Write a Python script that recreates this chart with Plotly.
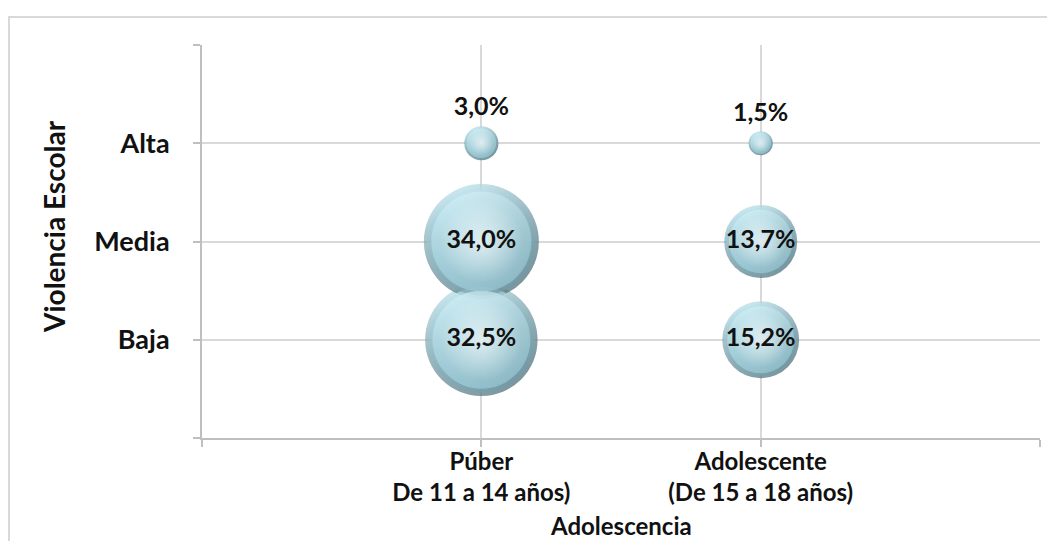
import plotly.graph_objects as go

# ---- data ----
groups = ["Púber<br>De 11 a 14 años)", "Adolescente<br>(De 15 a 18 años)"]
levels = ["Baja", "Media", "Alta"]
puber = [32.5, 34.0, 3.0]        # Baja, Media, Alta
adolescente = [15.2, 13.7, 1.5]  # Baja, Media, Alta
x_title = "Adolescencia"
y_title = "Violencia Escolar"

FONT = "Lato"
xs, ys, vals = [], [], []
for gi, series in enumerate([puber, adolescente]):
    for li, v in enumerate(series):
        xs.append(gi + 1)
        ys.append(li + 1)
        vals.append(v)

labels = [f"{v:.1f}".replace(".", ",") + "%" for v in vals]
positions = ["top center" if lv == 3 else "middle center" for lv in ys]

max_d = 115.0
sizeref = 2.0 * max(vals) / (max_d ** 2)

# page has an 8px body margin: figure is drawn 8px right/down
W, H = 1047, 533
L, T = 194, 37
PW, PH = 838, 393

fig = go.Figure()


def layer(ratio, color, gcolor, gtype):
    # marker.color = outer/left/top colour, gradient.color = centre/right/bottom colour
    fig.add_trace(go.Scatter(
        x=xs, y=ys, mode="markers", hoverinfo="skip", showlegend=False,
        marker=dict(size=vals, sizemode="area", sizeref=sizeref / ratio ** 2,
                    color=color, line=dict(width=0),
                    gradient=dict(type=gtype, color=gcolor))))


# outer rim: light on top, dark at the bottom-right
layer(1.0, "#b9e4ef", "#4a717c", "vertical")
layer(1.0, "rgba(255,255,255,0)", "rgba(20,50,60,0.35)", "horizontal")
# transition ring
layer(0.94, "#c4eaf4", "#729fac", "vertical")
layer(0.94, "rgba(255,255,255,0)", "rgba(25,60,70,0.26)", "horizontal")
# body
layer(0.87, "#d2f1f8", "#9accd9", "vertical")
layer(0.87, "rgba(255,255,255,0)", "rgba(40,90,105,0.16)", "horizontal")
# soft highlight
layer(0.72, "rgba(255,255,255,0)", "rgba(255,255,255,0.85)", "radial")

# labels
fig.add_trace(go.Scatter(
    x=xs, y=ys, mode="markers+text", text=labels, textposition=positions,
    marker=dict(size=vals, sizemode="area", sizeref=sizeref, opacity=0),
    textfont=dict(family=FONT, size=25, color="#111111", weight="bold"),
    hoverinfo="skip", showlegend=False))

xfont = dict(family=FONT, size=24, color="#111111", weight="bold")
yfont = dict(family=FONT, size=27, color="#111111", weight="bold")
fig.update_layout(
    width=W, height=H,
    margin=dict(l=L, r=W - L - PW, t=T, b=H - T - PH, autoexpand=False),
    paper_bgcolor="white", plot_bgcolor="white",
    font=dict(family=FONT, color="#111111"),
    xaxis=dict(range=[0, 3], tickmode="array", tickvals=[0, 1, 2, 3],
               ticktext=[""] + groups + [""],
               showgrid=True, gridcolor="#d9d9d9", gridwidth=2,
               showline=True, linecolor="#bfbfbf", linewidth=2,
               ticks="outside", ticklen=7, tickcolor="#bfbfbf", tickwidth=2,
               zeroline=False, tickfont=xfont, ticklabelstandoff=-6),
    yaxis=dict(range=[0, 4], tickmode="array", tickvals=[0, 1, 2, 3, 4],
               ticktext=[""] + levels + [""],
               showgrid=True, gridcolor="#d9d9d9", gridwidth=2,
               showline=True, linecolor="#bfbfbf", linewidth=2,
               ticks="outside", ticklen=7, tickcolor="#bfbfbf", tickwidth=2,
               zeroline=False, tickfont=yfont, ticklabelstandoff=18),
    annotations=[
        dict(text=y_title, textangle=-90, xref="paper", yref="paper",
             x=(54 - 202) / PW, y=(438 - 227) / PH,
             xanchor="center", yanchor="middle", showarrow=False,
             font=dict(family=FONT, size=28, color="#111111", weight="bold")),
        dict(text=x_title, xref="paper", yref="paper",
             x=0.5, y=(438 - 525) / PH,
             xanchor="center", yanchor="middle", showarrow=False,
             font=xfont),
    ],
    shapes=[dict(type="rect", xref="paper", yref="paper",
                 x0=(9 - 202) / PW, x1=(1075 - 202) / PW,
                 y0=-0.5, y1=(438 - 17) / PH,
                 line=dict(color="#d9d9d9", width=2), layer="below")],
)

fig.write_html("out.html")
